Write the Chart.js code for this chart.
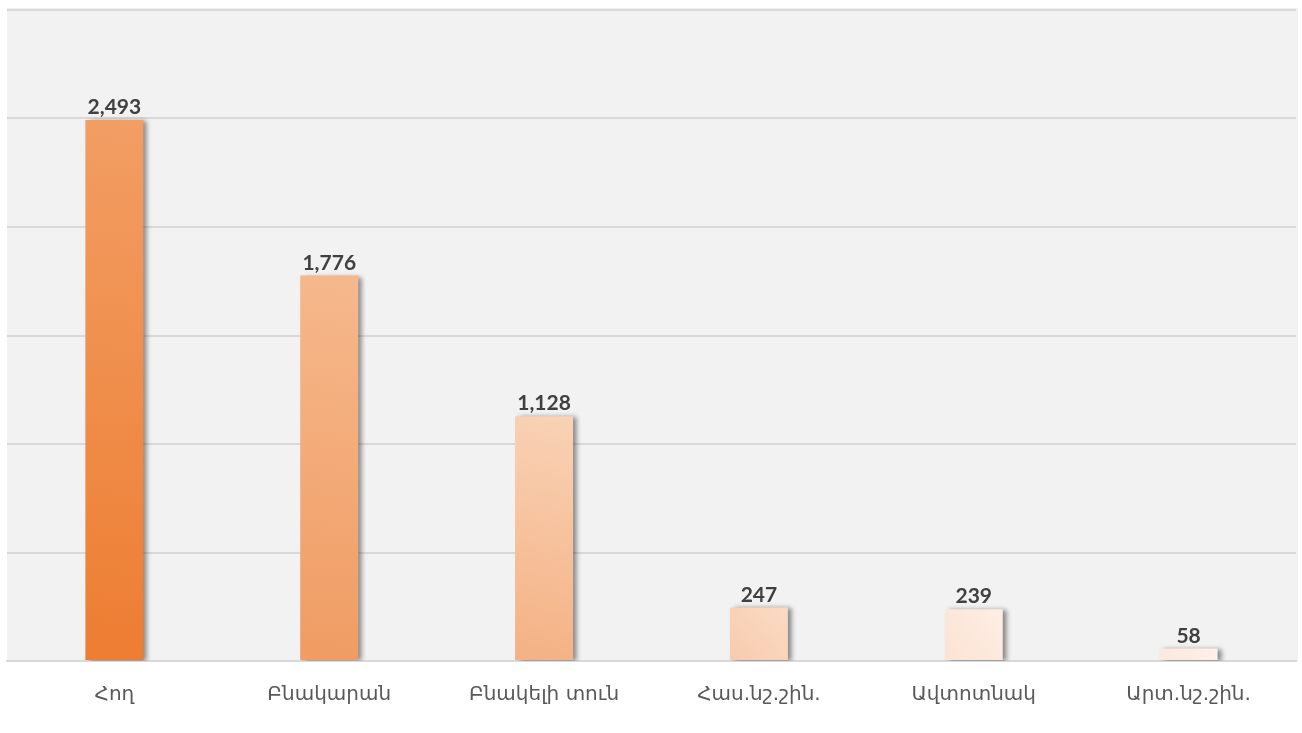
<!DOCTYPE html>
<html>
<head>
<meta charset="utf-8">
<script src="https://cdn.jsdelivr.net/npm/chart.js@4"></script>
<style>
  html, body { margin: 0; padding: 0; background: #fff; }
  #wrap { width: 1302px; height: 733px; }
</style>
</head>
<body>
<div id="wrap"><canvas id="chart" width="1302" height="733"></canvas></div>
<script>
const categories = ['Հող', 'Բնակարան', 'Բնակելի տուն', 'Հաս.նշ.շին.', 'Ավտոտնակ', 'Արտ.նշ.շին.'];
const values = [2493, 1776, 1128, 247, 239, 58];

// gradient stops per bar: [top-right, bottom-left]
const barColors = [
    ['#f29e64', '#ed7d31'],
    ['#f6b88c', '#f09c63'],
    ['#f9d2b6', '#f4b183'],
    ['#fadbc5', '#f8cbad'],
    ['#fdeee4', '#fbe3d3'],
    ['#fdf1e9', '#fbe9dd']
];

const bgPlugin = {
    id: 'bg',
    beforeDraw(chart) {
        const { ctx, chartArea: a } = chart;
        ctx.save();
        ctx.fillStyle = '#f2f2f2';
        ctx.fillRect(a.left, a.top - 2, a.right - a.left + 2, a.bottom - a.top + 2);
        ctx.restore();
    }
};

const shadowPlugin = {
    id: 'shadow',
    beforeDatasetsDraw(chart) {
        const ctx = chart.ctx;
        ctx.save();
        ctx.shadowColor = 'rgba(0,0,0,0.45)';
        ctx.shadowOffsetX = 4;
        ctx.shadowOffsetY = 1;
        ctx.shadowBlur = 5;
    },
    afterDatasetsDraw(chart) {
        chart.ctx.restore();
    }
};

const labelPlugin = {
    id: 'valueLabels',
    afterDraw(chart) {
        const ctx = chart.ctx;
        const meta = chart.getDatasetMeta(0);
        ctx.save();
        ctx.font = 'bold 21px Lato, "Open Sans", sans-serif';
        ctx.fillStyle = '#404040';
        ctx.textAlign = 'center';
        ctx.textBaseline = 'bottom';
        meta.data.forEach((bar, i) => {
            ctx.fillText(values[i].toLocaleString('en-US'), bar.x, bar.y - 2);
        });
        ctx.restore();
    }
};

function barGradient(c) {
    const cols = barColors[c.dataIndex] || barColors[0];
    const chart = c.chart;
    const xs = chart.scales.x, ys = chart.scales.y;
    if (!chart.chartArea || !xs || !ys) return cols[1];
    const cx = xs.getPixelForValue(c.dataIndex);
    const top = ys.getPixelForValue(values[c.dataIndex]);
    const base = ys.getPixelForValue(0);
    const half = xs.width / categories.length * 0.27 / 2;
    if (![cx, top, base, half].every(Number.isFinite)) return cols[1];
    const g = chart.ctx.createLinearGradient(cx - half, base, cx + half, top);
    g.addColorStop(0, cols[1]);
    g.addColorStop(1, cols[0]);
    return g;
}

const ctx = document.getElementById('chart').getContext('2d');
new Chart(ctx, {
    type: 'bar',
    data: {
        labels: categories,
        datasets: [{
            data: values,
            backgroundColor: barGradient,
            borderWidth: 0,
            barPercentage: 0.27,
            categoryPercentage: 1
        }]
    },
    options: {
        responsive: false,
        animation: false,
        layout: { padding: { left: 7, right: 6, top: 10, bottom: 4 } },
        plugins: {
            legend: { display: false },
            tooltip: { enabled: false }
        },
        scales: {
            x: {
                grid: { display: false, drawTicks: false },
                border: { display: true, color: '#d9d9d9', width: 2 },
                ticks: {
                    color: '#595959',
                    font: { size: 20, family: '"DejaVu Sans", sans-serif' },
                    padding: 22
                }
            },
            y: {
                min: 0,
                max: 3000,
                ticks: { display: false, stepSize: 500 },
                border: { display: false },
                grid: { color: '#d9d9d9', lineWidth: 2, drawTicks: false }
            }
        }
    },
    plugins: [bgPlugin, shadowPlugin, labelPlugin]
});
</script>
</body>
</html>
